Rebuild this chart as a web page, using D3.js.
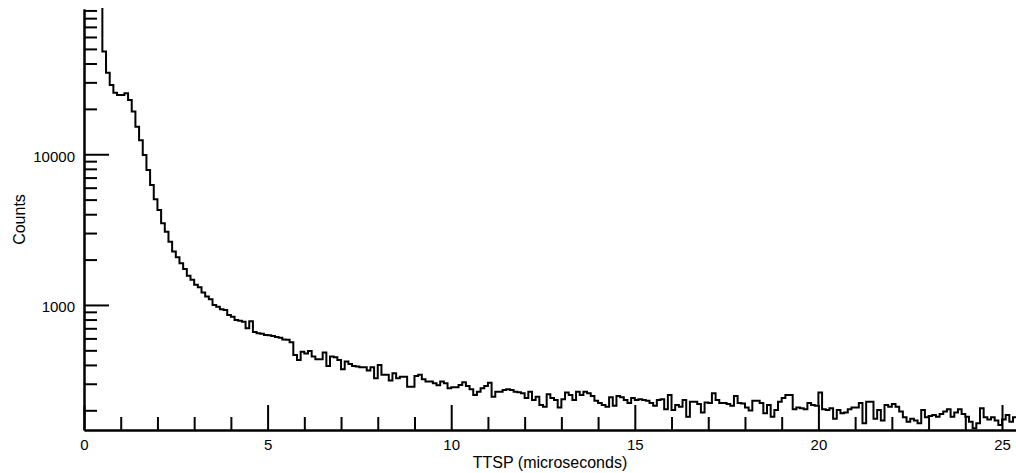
<!doctype html>
<html>
<head>
<meta charset="utf-8">
<title>TTSP histogram</title>
<script src="https://cdnjs.cloudflare.com/ajax/libs/d3/7.8.5/d3.min.js"></script>
<style>
    body { margin: 0; background: #fff; }
    svg { display: block; font-family: "Liberation Sans", Arial, sans-serif; }
</style>
</head>
<body>
<svg id="chart" width="1016" height="473"></svg>
<script>

// histogram bins: start 0.4 us, width 0.1 us
var binStart = 0.4;
var binWidth = 0.1;

// counts per bin
var counts = [
    200000, 48000, 34800, 28800, 25600, 24700, 24700, 25400, 22900, 19200,
    15200, 12400, 9900, 7870, 6260, 5020, 4270, 3480, 3060, 2630,
    2260, 2070, 1890, 1730, 1560, 1470, 1360, 1310, 1210, 1140,
    1090, 1000, 974, 936, 926, 859, 836, 795, 787, 775,
    700, 780, 662, 649, 645, 632, 630, 622, 612, 605,
    591, 588, 565, 465, 432, 490, 477, 495, 455, 437,
    437, 483, 394, 455, 450, 431, 374, 421, 406, 394,
    390, 386, 386, 367, 386, 326, 400, 344, 344, 315,
    352, 326, 334, 334, 287, 287, 338, 344, 321, 310,
    310, 302, 293, 310, 302, 280, 284, 284, 294, 307,
    290, 276, 253, 266, 280, 290, 305, 246, 266, 266,
    273, 276, 273, 266, 263, 259, 241, 266, 234, 246,
    217, 211, 256, 241, 234, 209, 237, 262, 253, 234,
    266, 253, 266, 259, 249, 231, 224, 217, 211, 244,
    214, 249, 244, 234, 224, 241, 234, 237, 234, 231,
    224, 214, 234, 237, 203, 253, 201, 217, 211, 234,
    181, 228, 228, 220, 193, 225, 224, 259, 234, 224,
    224, 220, 214, 249, 224, 222, 209, 199, 231, 231,
    224, 191, 217, 181, 201, 228, 241, 253, 253, 203,
    209, 206, 203, 224, 217, 214, 262, 203, 201, 206,
    176, 201, 191, 193, 203, 209, 209, 224, 164, 228,
    228, 176, 201, 171, 217, 211, 220, 211, 196, 180,
    168, 176, 171, 164, 201, 180, 183, 186, 181, 189,
    196, 203, 181, 193, 203, 189, 181, 168, 152, 164,
    206, 180, 174, 180, 171, 160, 174, 186, 168, 180
];

var xMajor = [0, 5, 10, 15, 20, 25];
var xMinor = [1, 2, 3, 4, 6, 7, 8, 9, 11, 12, 13, 14, 16, 17, 18, 19, 21, 22, 23, 24];
var yMajor = [1000, 10000];
var yMinor = [200, 300, 400, 500, 600, 700, 800, 900,
              2000, 3000, 4000, 5000, 6000, 7000, 8000, 9000,
              20000, 30000, 40000, 50000, 60000, 70000, 80000, 90000];

var xTitle = "TTSP (microseconds)";
var yTitle = "Counts";

var svg = d3.select("#chart");

// plot box (note: "top" is reserved on window, so use p* names)
var pLeft = 84, pRight = 1016.7, pTop = 9, pBottom = 430;

var x = d3.scaleLinear().domain([0, 25.4]).range([pLeft, pRight]);
var y = d3.scaleLog().domain([148, 92000]).range([pBottom, pTop]);

// histogram as step line
var pts = counts.map((c, i) => ({ x: binStart + i * binWidth, v: c }));
pts.push({ x: binStart + counts.length * binWidth, v: counts[counts.length - 1] });

svg.append("clipPath").attr("id", "plotclip")
    .append("rect")
    .attr("x", pLeft).attr("y", pTop - 1)
    .attr("width", pRight - pLeft).attr("height", pBottom - pTop + 1);

var line = d3.line()
    .x(d => x(d.x))
    .y(d => y(d.v))
    .curve(d3.curveStepAfter);

svg.append("path")
    .datum(pts)
    .attr("clip-path", "url(#plotclip)")
    .attr("fill", "none")
    .attr("stroke", "#000")
    .attr("stroke-width", 2)
    .attr("d", line);

// x axis: ticks point inward (up), labels below
var xAxisMajor = d3.axisBottom(x).tickValues(xMajor).tickFormat(d3.format("d"))
    .tickSizeInner(-25).tickSizeOuter(0).tickPadding(9);
var xAxisMinor = d3.axisBottom(x).tickValues(xMinor).tickFormat("")
    .tickSizeInner(-13).tickSizeOuter(0);

svg.append("g").attr("transform", "translate(0," + pBottom + ")").call(xAxisMinor);
var gx = svg.append("g").attr("transform", "translate(0," + pBottom + ")").call(xAxisMajor);

// y axis: ticks point inward (right), labels on the left
var yAxisMajor = d3.axisLeft(y).tickValues(yMajor).tickFormat(d3.format("d"))
    .tickSizeInner(-25).tickSizeOuter(0).tickPadding(9);
var yAxisMinor = d3.axisLeft(y).tickValues(yMinor).tickFormat("")
    .tickSizeInner(-13).tickSizeOuter(0);

svg.append("g").attr("transform", "translate(" + pLeft + ",0)").call(yAxisMinor);
var gy = svg.append("g").attr("transform", "translate(" + pLeft + ",0)").call(yAxisMajor);

svg.selectAll(".domain, .tick line")
    .attr("stroke", "#000")
    .attr("stroke-width", 2);

svg.selectAll(".tick text")
    .attr("fill", "#000")
    .style("font-size", "15px")
    .style("font-family", "'Liberation Sans', Arial, sans-serif");

gy.selectAll(".tick text").attr("dy", "0.46em");

svg.append("text")
    .attr("x", (pLeft + 1016) / 2)
    .attr("y", 468)
    .attr("text-anchor", "middle")
    .style("font-size", "16px")
    .text(xTitle);

svg.append("text")
    .attr("transform", "translate(25," + ((pTop + pBottom) / 2) + ") rotate(-90)")
    .attr("text-anchor", "middle")
    .style("font-size", "16px")
    .text(yTitle);

</script>
</body>
</html>
